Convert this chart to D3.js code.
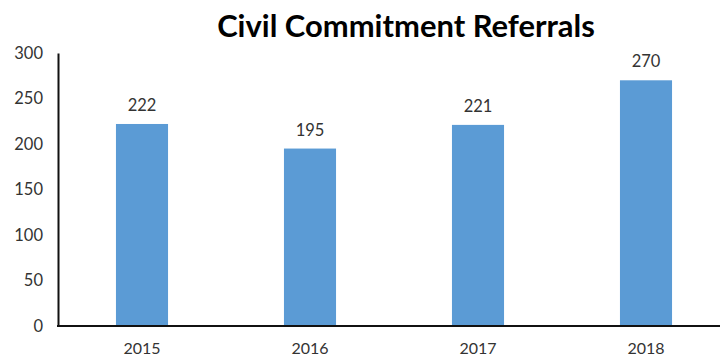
<!DOCTYPE html>
<html>
<head>
<meta charset="utf-8">
<script src="https://cdn.jsdelivr.net/npm/d3@7"></script>
<style>
  html, body { margin: 0; padding: 0; background: #fff; }
  svg { display: block; font-family: Lato, "Open Sans", sans-serif; }
</style>
</head>
<body>
<svg id="chart" width="720" height="358"></svg>
<script>
// Referral counts per year
const years = ["2015", "2016", "2017", "2018"];
const referrals = [222, 195, 221, 270];
const yTicks = [0, 50, 100, 150, 200, 250, 300];
const chartTitle = "Civil Commitment Referrals";

const svg = d3.select("#chart");
const W = 720, H = 358;
const plotLeft = 58, plotBottom = 326, plotTop = 53;

const x = d3.scaleBand()
  .domain(years)
  .range([plotLeft, plotLeft + 4 * 168])
  .paddingInner(0.69)
  .paddingOuter(0.345);

const y = d3.scaleLinear()
  .domain([0, 300])
  .range([plotBottom, plotTop]);

// Title, sized to its set width
const title = svg.append("text")
  .attr("x", 406)
  .attr("y", 37)
  .attr("text-anchor", "middle")
  .attr("font-weight", "bold")
  .attr("font-size", 30)
  .attr("fill", "#000")
  .text(chartTitle);
const tw = title.node().getComputedTextLength();
title.attr("font-size", 30 * 378 / tw);

// Bars
svg.append("g")
  .selectAll("rect")
  .data(years)
  .join("rect")
  .attr("x", d => x(d))
  .attr("width", x.bandwidth())
  .attr("y", (d, i) => y(referrals[i]))
  .attr("height", (d, i) => y(0) - y(referrals[i]))
  .attr("fill", "#5B9BD5");

// Value labels above bars
svg.append("g")
  .selectAll("text")
  .data(years)
  .join("text")
  .attr("x", d => x(d) + x.bandwidth() / 2)
  .attr("y", (d, i) => y(referrals[i]) - 13)
  .attr("text-anchor", "middle")
  .attr("font-size", 16.5)
  .attr("fill", "#333")
  .text((d, i) => referrals[i]);

// Y axis
const yAxis = svg.append("g")
  .attr("transform", `translate(${plotLeft},0)`)
  .call(d3.axisLeft(y).tickValues(yTicks).tickSize(0).tickPadding(15));
yAxis.select(".domain").attr("stroke", "#111").attr("stroke-width", 2);
yAxis.selectAll("text")
  .attr("font-size", 16.5)
  .attr("font-family", "Lato, 'Open Sans', sans-serif")
  .attr("fill", "#333");

// X axis
const xAxis = svg.append("g")
  .attr("transform", `translate(0,${plotBottom})`)
  .call(d3.axisBottom(x).tickSize(0).tickPadding(17));
xAxis.select(".domain").remove();
xAxis.selectAll("text")
  .attr("font-size", 16)
  .attr("font-family", "Lato, 'Open Sans', sans-serif")
  .attr("fill", "#333");
svg.append("line")
  .attr("x1", plotLeft - 1).attr("x2", W)
  .attr("y1", plotBottom).attr("y2", plotBottom)
  .attr("stroke", "#111")
  .attr("stroke-width", 2);
</script>
</body>
</html>
